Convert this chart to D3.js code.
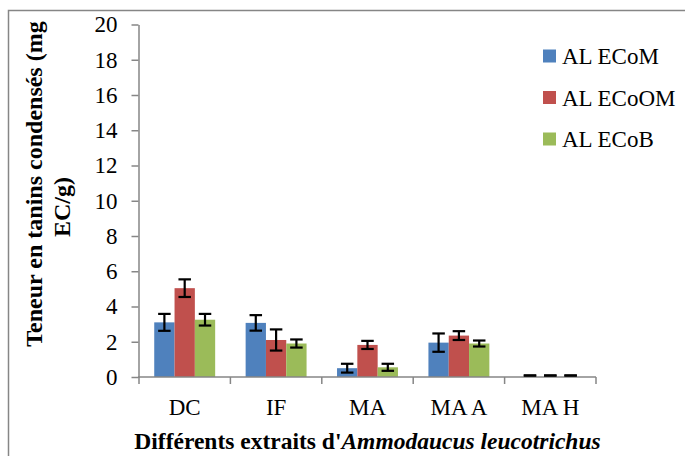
<!DOCTYPE html>
<html>
<head>
<meta charset="utf-8">
<script src="https://cdn.jsdelivr.net/npm/d3@7"></script>
<style>
  html, body { margin: 0; padding: 0; background: #fff; }
  svg { display: block; font-family: "Liberation Serif", "Times New Roman", serif; }
</style>
</head>
<body>
<svg id="chart" width="685" height="456"></svg>
<script>
// Extracts and condensed tannin content (mg EC/g) for three solvents
const categories = ["DC", "IF", "MA", "MA A", "MA H"];
const seriesNames = ["AL ECoM", "AL ECoOM", "AL ECoB"];
const ecoM  = [3.1, 3.07, 0.5, 1.95, 0];
const ecoOM = [5.04, 2.1, 1.82, 2.35, 0];
const ecoB  = [3.25, 1.9, 0.55, 1.9, 0];
const errM  = [0.48, 0.44, 0.25, 0.52, 0];
const errOM = [0.5, 0.6, 0.23, 0.25, 0];
const errB  = [0.33, 0.23, 0.2, 0.17, 0];
const yTicks = [0, 2, 4, 6, 8, 10, 12, 14, 16, 18, 20];
const colors = ["#4F81BD", "#C0504D", "#9BBB59"];

const values = [ecoM, ecoOM, ecoB];
const errors = [errM, errOM, errB];

const svg = d3.select("#chart");
const axisColor = "#868686";
const serif = "Liberation Serif";

// Outer chart frame
svg.append("path")
  .attr("d", "M8.5,456 V10.5 H685")
  .attr("fill", "none")
  .attr("stroke", axisColor)
  .attr("stroke-width", 1.5);

const x = d3.scaleBand().domain(categories).range([139, 596]).padding(0);
const y = d3.scaleLinear().domain([0, 20]).range([377, 24.5]);

// bars: gap between groups is 150% of one bar width
const barW = x.bandwidth() / 4.5;
const x1 = d3.scaleBand().domain(seriesNames)
  .range([0.75 * barW, 0.75 * barW + 3 * barW]).padding(0);

// Bars
seriesNames.forEach((s, si) => {
  svg.append("g").selectAll("rect")
    .data(categories.map((c, i) => ({ c, v: values[si][i] })))
    .join("rect")
    .attr("x", d => x(d.c) + x1(s))
    .attr("y", d => y(d.v))
    .attr("width", x1.bandwidth())
    .attr("height", d => y(0) - y(d.v))
    .attr("fill", colors[si]);
});

// Y axis
const yAxis = svg.append("g")
  .attr("transform", `translate(${x.range()[0] - 0.5},0)`)
  .call(d3.axisLeft(y).tickValues(yTicks).tickSize(7).tickPadding(14).tickSizeOuter(0));
yAxis.select(".domain").attr("stroke", axisColor).attr("stroke-width", 1.5);
yAxis.selectAll(".tick line").attr("stroke", axisColor).attr("stroke-width", 1.5);
yAxis.selectAll(".tick text")
  .attr("fill", "#000")
  .style("font-family", serif)
  .style("font-size", "23px");

// X axis line with ticks at category boundaries
const bounds = categories.map(c => x(c)).concat([x.range()[1]]);
svg.append("line")
  .attr("x1", x.range()[0] - 1).attr("x2", x.range()[1])
  .attr("y1", y(0)).attr("y2", y(0))
  .attr("stroke", axisColor).attr("stroke-width", 1.5);
svg.append("g").selectAll("line")
  .data(bounds)
  .join("line")
  .attr("x1", d => d).attr("x2", d => d)
  .attr("y1", y(0)).attr("y2", y(0) + 7)
  .attr("stroke", axisColor).attr("stroke-width", 1.5);

// Category labels
const xAxis = svg.append("g")
  .attr("transform", `translate(0,${y(0)})`)
  .call(d3.axisBottom(x).tickSize(0).tickPadding(22));
xAxis.select(".domain").remove();
xAxis.selectAll(".tick text")
  .attr("fill", "#000")
  .style("font-family", serif)
  .style("font-size", "23px");

// Error bars
const capW = 12.5;
seriesNames.forEach((s, si) => {
  const g = svg.append("g").attr("stroke", "#000").attr("stroke-width", 2.2).attr("fill", "none");
  categories.forEach((c, i) => {
    const cx = x(c) + x1(s) + x1.bandwidth() / 2;
    const v = values[si][i], e = errors[si][i];
    const yt = y(v + e), yb = y(Math.max(0, v - e)) - (e === 0 ? 1.5 : 0);
    const ytt = e === 0 ? yb : yt;
    g.append("line").attr("x1", cx).attr("x2", cx).attr("y1", ytt).attr("y2", yb);
    g.append("line").attr("x1", cx - capW / 2).attr("x2", cx + capW / 2).attr("y1", ytt).attr("y2", ytt);
    g.append("line").attr("x1", cx - capW / 2).attr("x2", cx + capW / 2).attr("y1", yb).attr("y2", yb);
  });
});

// Legend
const legend = svg.append("g");
seriesNames.forEach((s, i) => {
  const cy = 56 + i * 41.5;
  legend.append("rect")
    .attr("x", 543).attr("y", cy - 6.5)
    .attr("width", 13).attr("height", 13)
    .attr("fill", colors[i]);
  legend.append("text")
    .attr("x", 562).attr("y", cy)
    .attr("dy", "0.35em")
    .style("font-family", serif)
    .style("font-size", "23px")
    .attr("fill", "#000")
    .text(s);
});

// Axis titles
const xTitle = svg.append("text")
  .attr("x", (x.range()[0] + x.range()[1]) / 2)
  .attr("y", 449)
  .attr("text-anchor", "middle")
  .style("font-family", serif)
  .style("font-size", "23.5px")
  .style("font-weight", "bold")
  .attr("fill", "#000");
xTitle.append("tspan").text("Différents extraits d'");
xTitle.append("tspan").style("font-style", "italic").text("Ammodaucus leucotrichus");

svg.append("text")
  .attr("transform", "translate(42,184) rotate(-90)")
  .attr("text-anchor", "middle")
  .style("font-family", serif)
  .style("font-size", "24px")
  .style("font-weight", "bold")
  .attr("fill", "#000")
  .text("Teneur en tanins condensés (mg");
svg.append("text")
  .attr("transform", "translate(70,207) rotate(-90)")
  .attr("text-anchor", "middle")
  .style("font-family", serif)
  .style("font-size", "24px")
  .style("font-weight", "bold")
  .attr("fill", "#000")
  .text("EC/g)");
</script>
</body>
</html>
